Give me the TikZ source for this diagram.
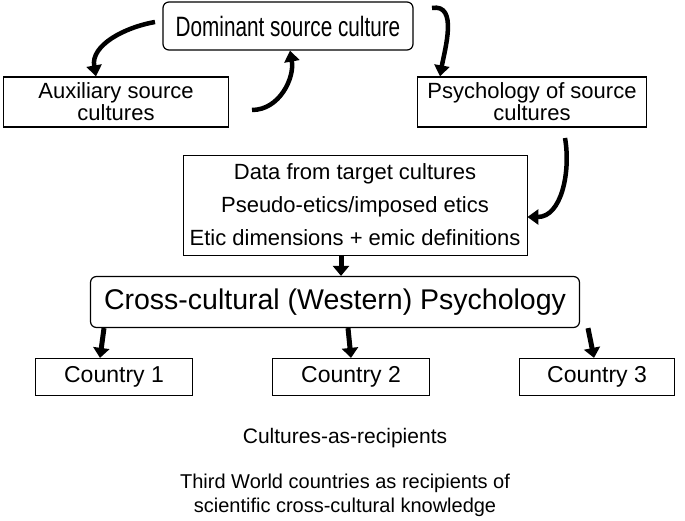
\documentclass[tikz,border=0pt]{standalone}
\usepackage{fontspec}
\setmainfont{Liberation Sans}
\usetikzlibrary{arrows.meta}
\begin{document}
\begin{tikzpicture}[x=1pt,y=-1pt,
    box/.style = {draw, line width=1.2pt, align=center, inner sep=0pt},
    curvearrow/.style = {line width=4.5pt, -{Triangle[length=11pt,width=15pt]}},
    downarrow/.style = {line width=5pt, -{Triangle[length=10pt,width=16pt]}}]
    \useasboundingbox (0,0) rectangle (685,521);
    \node[box, rounded corners=6pt, minimum width=250, minimum height=48, font=\fontsize{28}{30}\selectfont] (dom) at (288,26) {\scalebox{0.74}[1]{Dominant source culture}};
    \node[box, minimum width=225, minimum height=50, font=\fontsize{22}{22}\selectfont] (aux) at (116,102) {Auxiliary source\\cultures};
    \node[box, minimum width=229, minimum height=50, font=\fontsize{22}{22}\selectfont] (psy) at (532,102) {Psychology of source\\cultures};
    \node[box, line width=0.8pt, minimum width=344, minimum height=100, font=\fontsize{22}{33}\selectfont] (data) at (355,205) {Data from target cultures\\Pseudo-etics/imposed etics\\Etic dimensions + emic definitions};
    \node[box, rounded corners=6pt, minimum width=489, minimum height=51, font=\fontsize{28.5}{30}\selectfont] (cross) at (335,302) {Cross-cultural (Western) Psychology};
    \node[box, minimum width=157, minimum height=37, font=\fontsize{23}{24}\selectfont] (c1) at (114,377) {Country 1};
    \node[box, minimum width=157, minimum height=37, font=\fontsize{23}{24}\selectfont] (c2) at (351,377) {Country 2};
    \node[box, minimum width=155, minimum height=37, font=\fontsize{23}{24}\selectfont] (c3) at (597,377) {Country 3};
    \node[font=\fontsize{21}{22}\selectfont] (rec) at (345,438) {Cultures-as-recipients};
    \node[align=center, font=\fontsize{20}{24}\selectfont] (third) at (345,495) {Third World countries as recipients of\\scientific cross-cultural knowledge};

    \coordinate (a1) at (155,22);
    \coordinate (a2) at (252,110);
    \coordinate (a3) at (432,8);
    \coordinate (a4) at (565,138);
    \coordinate (dtop) at (341,255);
    \draw[curvearrow] (a1) to[out=190,in=100] ([xshift=-20pt]aux.north);
    \draw[curvearrow] (a2) to[out=0,in=-80] ([xshift=2pt]dom.south);
    \draw[curvearrow] (a3) to[out=10,in=80] ([xshift=-92pt]psy.north);
    \draw[curvearrow] (a4) to[out=-80,in=0] ([yshift=-12pt]data.east);
    \draw[downarrow] (dtop) -- (dtop |- cross.north);
    \draw[downarrow] ([xshift=-231pt]cross.south) -- ([xshift=-14pt]c1.north);
    \draw[downarrow] ([xshift=13pt]cross.south) -- (c2.north);
    \draw[downarrow] ([xshift=253pt]cross.south) -- ([xshift=-3pt]c3.north);
\end{tikzpicture}
\end{document}
